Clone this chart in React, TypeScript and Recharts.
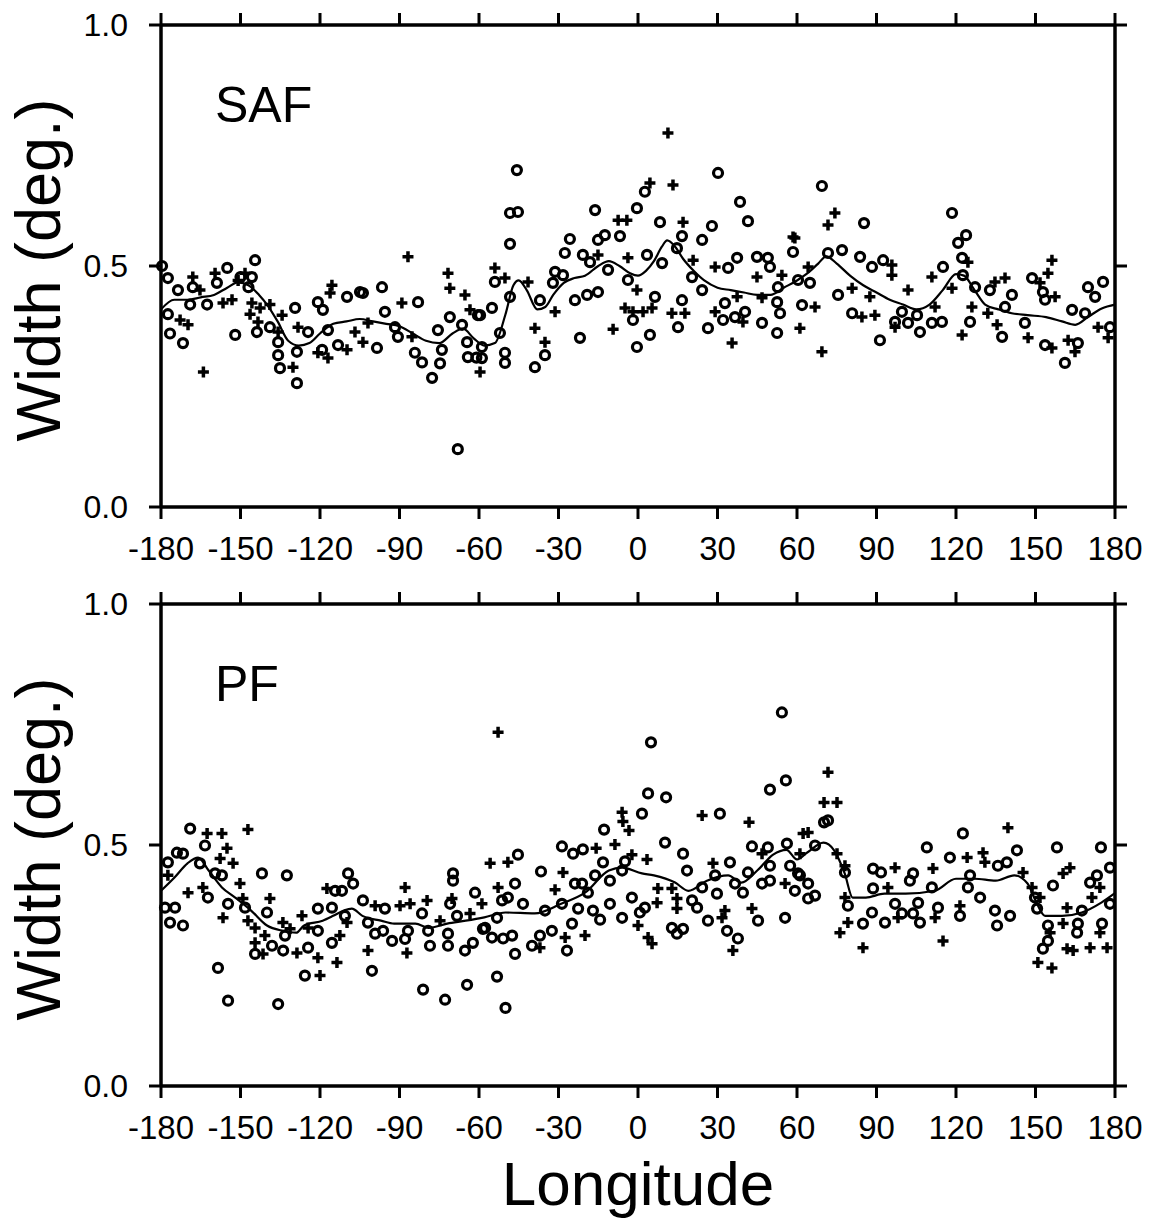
import { ComposedChart, Scatter, Line, XAxis, YAxis } from "recharts";

// [longitude, width] pairs
const safCircles: [number, number][] = [
  [-179.6, 0.5], [-177.4, 0.475], [-173.6, 0.45], [-177.4, 0.4], [-176.6, 0.36], [-171.7, 0.34], [-169, 0.42], [-168, 0.456],
  [-162.6, 0.42], [-158.9, 0.465], [-155, 0.496], [-152, 0.357], [-150, 0.477], [-145.7, 0.477], [-144.5, 0.512], [-147, 0.456],
  [-143.8, 0.363], [-138.9, 0.373], [-135.8, 0.342], [-135.8, 0.315], [-135.1, 0.288], [-129.4, 0.413], [-128.7, 0.257], [-128.7, 0.322],
  [-124.5, 0.363], [-120.8, 0.425], [-118.9, 0.409], [-119.2, 0.326], [-117, 0.367], [-113.2, 0.336], [-109.8, 0.436], [-104.9, 0.446],
  [-103.8, 0.444], [-98.5, 0.33], [-96.6, 0.456], [-95.5, 0.405], [-91.7, 0.373], [-90.6, 0.353], [-83, 0.425], [-84.2, 0.32],
  [-81.5, 0.3], [-77.7, 0.268], [-75.5, 0.367], [-74.7, 0.298], [-74, 0.326], [-71, 0.394], [-68, 0.12], [-66.4, 0.378],
  [-64.5, 0.342], [-64.2, 0.311], [-61, 0.31], [-60.4, 0.398], [-58.9, 0.309],
  [-45.7, 0.699], [-48.3, 0.61], [-45.3, 0.612], [-48.3, 0.546], [-54, 0.467], [-48.3, 0.436], [-55.1, 0.413], [-59.6, 0.398],
  [-52.1, 0.361], [-58.9, 0.332], [-50.2, 0.32], [-50.2, 0.299], [-38.9, 0.29], [-35.1, 0.315], [-37, 0.429], [-31.3, 0.488],
  [-32.1, 0.465], [-27.6, 0.527], [-25.7, 0.556], [-28.3, 0.481], [-23.8, 0.429], [-21.9, 0.351], [-20.8, 0.523], [-18.1, 0.508],
  [-16.2, 0.616], [-15.1, 0.554], [-12.5, 0.564], [-19.2, 0.44], [-15.1, 0.446], [-6.8, 0.562], [-11.3, 0.492], [-3.8, 0.471],
  [-0.4, 0.62], [2.6, 0.654], [-1.9, 0.388], [-0.4, 0.332], [4.5, 0.357], [6.4, 0.436], [3.4, 0.523], [8.3, 0.591],
  [9.1, 0.506], [15.1, 0.373], [16.6, 0.429], [16.6, 0.562], [14.7, 0.537], [24.2, 0.554], [27.9, 0.583], [30.2, 0.693],
  [26.4, 0.371], [20.4, 0.477], [24.2, 0.45], [34, 0.496], [37.4, 0.517], [32.8, 0.423], [32.1, 0.388], [36.6, 0.394],
  [38.5, 0.633], [41.5, 0.593], [40.4, 0.405], [46.8, 0.382], [52.5, 0.361], [44.9, 0.519], [49, 0.517], [49.8, 0.498],
  [58.5, 0.529], [52.5, 0.425], [53.6, 0.402], [52.8, 0.456], [60.4, 0.471],
  [69.4, 0.666], [85.3, 0.589], [71.7, 0.527], [77, 0.533], [64.9, 0.465], [61.9, 0.419], [75.5, 0.44], [83.8, 0.519],
  [88.3, 0.498], [92.5, 0.512], [80.8, 0.402], [91.3, 0.346], [97, 0.384], [101.9, 0.382], [106.4, 0.363], [110.9, 0.382],
  [114.7, 0.384], [99.6, 0.405], [105.3, 0.398], [115.1, 0.498], [118.5, 0.61], [120.8, 0.548], [123.8, 0.564], [122.3, 0.517],
  [122.6, 0.481], [127.2, 0.456], [132.8, 0.45], [125.3, 0.384], [138.5, 0.415], [141.1, 0.44], [137.4, 0.353], [148.7, 0.475],
  [152.8, 0.446], [153.6, 0.43], [146, 0.382], [153.6, 0.336], [161.1, 0.299], [163.8, 0.409], [166, 0.34], [169.8, 0.456],
  [175.5, 0.467], [172.5, 0.436], [178.1, 0.373], [168.7, 0.402],
];

const safPlus: [number, number][] = [
  [-168, 0.477], [-164, 0.28], [-172.8, 0.388], [-169.8, 0.378], [-165.3, 0.45], [-159.6, 0.485], [-156.6, 0.423], [-153.2, 0.43],
  [-150.9, 0.47], [-148.3, 0.485], [-145.7, 0.423], [-146.4, 0.4], [-142.6, 0.413], [-138.9, 0.42], [-134.3, 0.398], [-143.4, 0.384],
  [-135.8, 0.363], [-130.2, 0.29], [-128.3, 0.373], [-115.5, 0.46], [-116.2, 0.444], [-117, 0.309], [-120.8, 0.32], [-109.8, 0.326],
  [-106.8, 0.363], [-103.8, 0.342], [-101.9, 0.382], [-89.1, 0.423], [-86.8, 0.519], [-85.3, 0.353], [-71.7, 0.485], [-71, 0.454],
  [-65.3, 0.44], [-63.4, 0.409], [-59.6, 0.28],
  [11.3, 0.776], [13.2, 0.668], [4.5, 0.672], [-7.5, 0.595], [-4.2, 0.595], [17, 0.591], [-54, 0.496], [-50.2, 0.475],
  [-41.5, 0.467], [-38.9, 0.371], [-35.1, 0.342], [-31.3, 0.405], [-15.1, 0.523], [-3.8, 0.517], [-0.4, 0.45], [-9.4, 0.369],
  [-4.9, 0.413], [-1.9, 0.405], [1.9, 0.405], [5.3, 0.413], [12.8, 0.402], [17.7, 0.402], [20.8, 0.512], [29.1, 0.498],
  [37.4, 0.436], [29.1, 0.405], [39.6, 0.384], [35.5, 0.34], [44.9, 0.477], [58.5, 0.56], [61.1, 0.371], [54.3, 0.481],
  [46.8, 0.434], [59.2, 0.558],
  [74.3, 0.61], [71.7, 0.585], [69.4, 0.322], [66.8, 0.415], [64.2, 0.498], [80.8, 0.454], [87.5, 0.436], [84.5, 0.394],
  [89.4, 0.398], [95.8, 0.502], [95.8, 0.481], [101.9, 0.45], [97, 0.373], [110.9, 0.477], [112.1, 0.415], [122.3, 0.357],
  [118.5, 0.454], [124.5, 0.508], [126, 0.415], [134.7, 0.467], [138.5, 0.475], [132, 0.402], [135.5, 0.378], [147.2, 0.351],
  [151.7, 0.465], [154.7, 0.485], [156.2, 0.512], [157.4, 0.436], [156.2, 0.33], [162.3, 0.346], [164.9, 0.322], [173.6, 0.373],
  [177.4, 0.351],
];

const safCurve: [number, number][] = [
  [-180, 0.41], [-175, 0.43], [-170, 0.43], [-165, 0.435], [-160, 0.44], [-155, 0.455], [-151, 0.466], [-147, 0.46],
  [-143, 0.44], [-140, 0.42], [-136, 0.385], [-132, 0.345], [-128, 0.335], [-124, 0.34], [-120, 0.36], [-115, 0.38],
  [-110, 0.385], [-105, 0.39], [-100, 0.385], [-95, 0.38], [-90, 0.375], [-85, 0.36], [-80, 0.345], [-75, 0.34],
  [-70, 0.36], [-66, 0.37], [-62, 0.35], [-58, 0.335], [-54, 0.34], [-50, 0.4], [-47, 0.46], [-45, 0.47],
  [-42, 0.45], [-38, 0.41], [-35, 0.415], [-32, 0.44], [-28, 0.465], [-24, 0.475], [-20, 0.48], [-15, 0.5],
  [-11, 0.51], [-7, 0.5], [-3, 0.485], [0, 0.48], [3, 0.49], [6, 0.51], [9, 0.54], [11, 0.553],
  [14, 0.54], [17, 0.515], [21, 0.49], [25, 0.47], [30, 0.455], [35, 0.45], [40, 0.445], [45, 0.44],
  [50, 0.44], [55, 0.455], [60, 0.47], [64, 0.485], [68, 0.505], [71, 0.52], [75, 0.505], [80, 0.48],
  [85, 0.46], [90, 0.445], [95, 0.43], [100, 0.42], [105, 0.41], [110, 0.42], [115, 0.45], [120, 0.483],
  [123, 0.48], [127, 0.45], [131, 0.42], [136, 0.41], [141, 0.402], [147, 0.398], [154, 0.394], [160, 0.385],
  [165, 0.378], [170, 0.395], [175, 0.412], [180, 0.42],
];

const pfCircles: [number, number][] = [
  [-169, 0.534], [-163.4, 0.499], [-174, 0.484], [-171.7, 0.482], [-177.4, 0.464], [-165.3, 0.462], [-157, 0.437], [-159.6, 0.441],
  [-178.5, 0.37], [-174.7, 0.37], [-176.6, 0.339], [-171.7, 0.333], [-162.3, 0.391], [-154.7, 0.378], [-158.5, 0.245], [-154.7, 0.177],
  [-148.3, 0.37], [-141.9, 0.441], [-140, 0.36], [-132.5, 0.437], [-144.5, 0.274], [-138.1, 0.291], [-133.9, 0.281], [-133.2, 0.312],
  [-135.8, 0.17], [-124.5, 0.287], [-125.7, 0.229], [-120.8, 0.368], [-120.8, 0.322], [-115.5, 0.37], [-115.5, 0.297], [-114.3, 0.405],
  [-111.7, 0.405], [-109.4, 0.441], [-107.5, 0.42], [-110.6, 0.353], [-103.8, 0.385], [-101.9, 0.339], [-100.4, 0.239], [-99.2, 0.316],
  [-95.5, 0.368], [-96.2, 0.322], [-92.8, 0.301], [-87.9, 0.305], [-86.8, 0.322], [-81.5, 0.358], [-81.1, 0.2], [-79.2, 0.322],
  [-78.5, 0.291], [-72.8, 0.179], [-71.7, 0.291], [-71.7, 0.316], [-70.9, 0.378], [-69.8, 0.441], [-69.8, 0.426], [-68.3, 0.353],
  [-65.3, 0.281], [-62.3, 0.297], [-64.5, 0.21], [-61.5, 0.401], [-58.5, 0.326],
  [4.9, 0.713], [54.3, 0.775], [55.8, 0.634], [49.8, 0.615], [3.8, 0.607], [10.6, 0.599], [1.5, 0.565], [30.9, 0.565],
  [-12.8, 0.532], [10.2, 0.505], [-28.7, 0.497], [-24.5, 0.482], [-20.8, 0.491], [-45.3, 0.48], [-13.2, 0.464], [-4.9, 0.466],
  [-6, 0.447], [-36.6, 0.445], [-46.4, 0.42], [-23.8, 0.42], [-21.1, 0.42], [-16.2, 0.437], [-10.6, 0.426], [-18.9, 0.401],
  [-51.3, 0.385], [-49.1, 0.391], [-43.4, 0.378], [-35.1, 0.364], [-28.7, 0.378], [-22.6, 0.368], [-17, 0.364], [-10.6, 0.378],
  [-14.3, 0.345], [-6, 0.349], [-2.3, 0.391], [0.7, 0.36], [2.6, 0.37], [-57.7, 0.328], [-53.2, 0.349], [-55.1, 0.308],
  [-50.9, 0.306], [-47.5, 0.312], [-46.4, 0.274], [-53.2, 0.227], [-50, 0.162], [-40, 0.291], [-37, 0.312], [-32.5, 0.322],
  [-26.8, 0.281], [-24.9, 0.337], [12.8, 0.328], [14.7, 0.316], [17, 0.326], [18.5, 0.447], [17, 0.482], [20.4, 0.385],
  [22.3, 0.37], [26.4, 0.343], [24.2, 0.412], [29.1, 0.437], [29.8, 0.399], [34.7, 0.464], [36.6, 0.42], [39.6, 0.401],
  [33.6, 0.322], [37.7, 0.306], [41.5, 0.443], [43, 0.497], [45.3, 0.343], [46.8, 0.42], [49, 0.495], [49.8, 0.457],
  [49.8, 0.426], [55.5, 0.349], [56.2, 0.503], [57.4, 0.457], [60.4, 0.441], [59.2, 0.405],
  [70.2, 0.547], [71.7, 0.551], [66.8, 0.499], [61.1, 0.437], [64.2, 0.42], [66.8, 0.395], [64.2, 0.389], [78.1, 0.443],
  [79.2, 0.374], [84.9, 0.337], [88.7, 0.451], [91.7, 0.443], [88.7, 0.41], [88.3, 0.36], [93.2, 0.339], [97, 0.378],
  [99.6, 0.358], [103.8, 0.358], [106.4, 0.339], [102.6, 0.426], [103.8, 0.441], [105.7, 0.38], [109, 0.495], [110.9, 0.412],
  [113.2, 0.37], [117.7, 0.474], [121.5, 0.353], [122.6, 0.524], [125.3, 0.437], [124.5, 0.412], [129.1, 0.391], [134.7, 0.364],
  [135.5, 0.333], [140.4, 0.353], [135.8, 0.457], [139.2, 0.464], [143, 0.489], [150.6, 0.368], [149.8, 0.391], [156.6, 0.416],
  [158.1, 0.495], [154.7, 0.333], [154.7, 0.301], [152.8, 0.285], [166, 0.337], [165.7, 0.318], [167.5, 0.364], [170.6, 0.422],
  [173.2, 0.437], [175.1, 0.337], [174.7, 0.495], [178.1, 0.453], [178.1, 0.378],
];

const pfPlus: [number, number][] = [
  [-162.6, 0.524], [-157, 0.524], [-147.2, 0.532], [-155.1, 0.493], [-157.7, 0.472], [-152.8, 0.462], [-177.4, 0.437], [-169.8, 0.401],
  [-164.2, 0.412], [-156.6, 0.349], [-150.2, 0.42], [-149.1, 0.389], [-147.2, 0.343], [-144.5, 0.328], [-138.9, 0.389], [-140.8, 0.312],
  [-144.5, 0.297], [-141.5, 0.274], [-134, 0.339], [-131.3, 0.326], [-126.8, 0.353], [-128.7, 0.276], [-124.5, 0.328], [-120.8, 0.266],
  [-120, 0.229], [-113.6, 0.256], [-117.4, 0.41], [-112.5, 0.312], [-109.8, 0.339], [-101.9, 0.281], [-99.2, 0.374], [-87.9, 0.412],
  [-89.8, 0.374], [-86, 0.378], [-87.2, 0.276], [-79.6, 0.385], [-74.7, 0.343], [-70.2, 0.389], [-63.4, 0.358],
  [-52.8, 0.734], [24.2, 0.561], [41.9, 0.547], [-6, 0.568], [-5.7, 0.549], [-3.4, 0.53], [-8.7, 0.501], [-15.8, 0.493],
  [3.4, 0.47], [-2.3, 0.48], [-55.8, 0.462], [-49.1, 0.464], [-28.3, 0.443], [-31.3, 0.407], [-52.8, 0.412], [-58.9, 0.378],
  [7.5, 0.41], [12.8, 0.41], [7.2, 0.38], [14.7, 0.389], [14.7, 0.368], [0, 0.333], [3.8, 0.308], [5.3, 0.295],
  [-27.5, 0.308], [-20, 0.312], [-37, 0.287], [28.3, 0.462], [32.8, 0.364], [31.7, 0.349], [35.8, 0.281], [43, 0.368],
  [46.8, 0.482], [55.5, 0.42], [61.1, 0.482], [62.3, 0.524],
  [71.7, 0.651], [70.2, 0.588], [75.1, 0.588], [64.2, 0.526], [75.1, 0.482], [78.1, 0.457], [78.1, 0.391], [76.2, 0.318],
  [79.2, 0.339], [84.9, 0.287], [97, 0.453], [94.3, 0.412], [98.1, 0.349], [111.3, 0.451], [112.1, 0.349], [115.1, 0.301],
  [121.5, 0.374], [124.2, 0.474], [130.2, 0.484], [130.9, 0.464], [139.6, 0.536], [145.3, 0.443], [148.7, 0.412], [151.7, 0.391],
  [150.9, 0.256], [156.2, 0.245], [155.5, 0.318], [160.4, 0.337], [161.9, 0.37], [161.9, 0.285], [164.2, 0.281], [170.6, 0.287],
  [177, 0.287], [174.3, 0.318], [174.3, 0.412], [171.3, 0.391], [160.4, 0.441], [163, 0.453],
];

const pfCurve: [number, number][] = [
  [-180, 0.405], [-175, 0.432], [-170, 0.462], [-166, 0.474], [-162, 0.447], [-157, 0.412], [-152, 0.391], [-146, 0.364],
  [-140, 0.333], [-134, 0.322], [-129, 0.318], [-126, 0.333], [-119, 0.343], [-115, 0.353], [-111, 0.364], [-108, 0.368],
  [-104, 0.353], [-97, 0.343], [-92, 0.337], [-84, 0.337], [-79, 0.328], [-72, 0.337], [-65, 0.343], [-58, 0.35],
  [-50, 0.36], [-39, 0.358], [-29, 0.378], [-20, 0.401], [-11, 0.447], [-6, 0.453], [1.5, 0.441], [6, 0.437],
  [14, 0.422], [19, 0.405], [26, 0.426], [34, 0.437], [39, 0.422], [45, 0.447], [51, 0.48], [56, 0.49],
  [60, 0.47], [64, 0.485], [70, 0.505], [74, 0.489], [78, 0.441], [81, 0.391], [86, 0.391], [93, 0.399],
  [101, 0.399], [112, 0.405], [120, 0.43], [127, 0.43], [135, 0.426], [142, 0.437], [147, 0.42], [150, 0.385],
  [153.6, 0.353], [160, 0.353], [167.5, 0.36], [175, 0.381], [180, 0.4],
];

const lonTicks = [-180, -150, -120, -90, -60, -30, 0, 30, 60, 90, 120, 150, 180];
const widthTicks = [0, 0.5, 1];

const FONT = "'Liberation Sans', Arial, Helvetica, sans-serif";
const rows = (pts: [number, number][]) => pts.map(([lon, w]) => ({ lon, w }));

const Ring = (p: any) => (
  <circle cx={p.cx} cy={p.cy} r={4.5} fill="none" stroke="#000" strokeWidth={3.2} />
);
const Cross = (p: any) => (
  <path
    d={`M${p.cx - 5.5},${p.cy}H${p.cx + 5.5}M${p.cx},${p.cy - 5.5}V${p.cy + 5.5}`}
    stroke="#000"
    strokeWidth={3.5}
    fill="none"
  />
);

// the top and right axes carry tick marks only
const NoLabel = () => <g />;

const frame = { stroke: "#000", strokeWidth: 3.5 };
const mark = { stroke: "#000", strokeWidth: 3 };

function Panel({ circles, plus, curve, top }: { circles: [number, number][]; plus: [number, number][]; curve: [number, number][]; top: number }) {
  return (
    <div style={{ position: "absolute", left: -8, top: top - 8 }}>
      <ComposedChart width={1155} height={585} margin={{ top: 23, right: 38, bottom: 0, left: 0 }}>
        <XAxis
          dataKey="lon"
          type="number"
          domain={[-180, 180]}
          ticks={lonTicks}
          interval={0}
          height={78}
          axisLine={frame}
          tickLine={mark}
          tickSize={12}
          tickMargin={18}
          tick={{ fontSize: 33, fill: "#000", fontFamily: FONT }}
        />
        <XAxis
          xAxisId="top"
          dataKey="lon"
          type="number"
          orientation="top"
          domain={[-180, 180]}
          ticks={lonTicks}
          interval={0}
          height={2}
          axisLine={frame}
          tickLine={mark}
          tickSize={12}
          tick={NoLabel}
        />
        <YAxis
          dataKey="w"
          type="number"
          domain={[0, 1]}
          ticks={widthTicks}
          interval={0}
          width={161}
          axisLine={frame}
          tickLine={mark}
          tickSize={12}
          tickMargin={21}
          tickFormatter={(v: number) => v.toFixed(1)}
          tick={{ fontSize: 32, fill: "#000", fontFamily: FONT }}
        />
        <YAxis
          yAxisId="right"
          dataKey="w"
          type="number"
          orientation="right"
          domain={[0, 1]}
          ticks={widthTicks}
          interval={0}
          width={2}
          axisLine={frame}
          tickLine={mark}
          tickSize={12}
          tick={NoLabel}
        />
        <Line
          data={rows(curve)}
          dataKey="w"
          type="monotone"
          stroke="#000"
          strokeWidth={2.2}
          dot={false}
          activeDot={false}
          isAnimationActive={false}
        />
        <Scatter data={rows(circles)} shape={Ring} isAnimationActive={false} />
        {/* same scales as the bottom/left pair; binding here gives the top and right axes their ticks */}
        <Scatter data={rows(plus)} xAxisId="top" yAxisId="right" shape={Cross} isAnimationActive={false} />
      </ComposedChart>
    </div>
  );
}

export default function App() {
  return (
    <div style={{ position: "relative", width: 1147, height: 1214, background: "#fff" }}>
      <Panel circles={safCircles} plus={safPlus} curve={safCurve} top={0} />
      <Panel circles={pfCircles} plus={pfPlus} curve={pfCurve} top={579} />
      <svg
        width={1155}
        height={1222}
        style={{ position: "absolute", left: -8, top: -8, pointerEvents: "none" }}
        fontFamily={FONT}
      >
        <text x={215} y={122} fontSize={50}>SAF</text>
        <text x={215} y={701} fontSize={50}>PF</text>
        <text x={60} y={270} fontSize={63} textAnchor="middle" transform="rotate(-90 60 270)">Width (deg.)</text>
        <text x={60} y={849} fontSize={63} textAnchor="middle" transform="rotate(-90 60 849)">Width (deg.)</text>
        <text x={638} y={1205} fontSize={62} textAnchor="middle">Longitude</text>
      </svg>
    </div>
  );
}
